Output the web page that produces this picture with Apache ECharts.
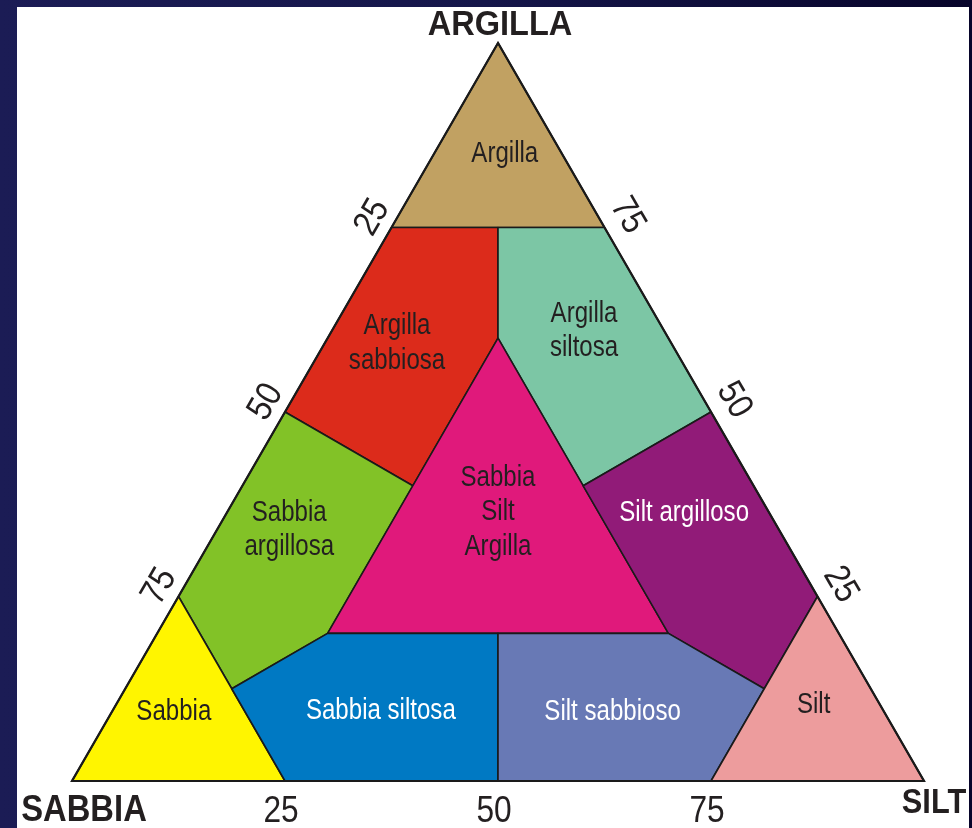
<!DOCTYPE html>
<html>
<head>
<meta charset="utf-8">
<script src="https://cdn.jsdelivr.net/npm/echarts@6/dist/echarts.min.js"></script>
<style>
html,body{margin:0;padding:0;background:#12133f;}
#chart{width:972px;height:828px;}
</style>
</head>
<body>
<div id="chart"></div>
<script>
// Texture classes; vertices given as [clay %, silt %] (sand = 100 - clay - silt)
const regionNames = ['Argilla', 'Argilla\nsabbiosa', 'Argilla\nsiltosa', 'Sabbia\nargillosa',
  'Sabbia\nSilt\nArgilla', 'Silt argilloso', 'Sabbia', 'Sabbia siltosa', 'Silt sabbioso', 'Silt'];
const argillaVerts = [[100, 0], [75, 0], [75, 25]];
const argillaSabbiosaVerts = [[75, 0], [75, 12.5], [60, 20], [40, 20], [50, 0]];
const argillaSiltosaVerts = [[75, 12.5], [75, 25], [50, 50], [40, 40], [60, 20]];
const sabbiaArgillosaVerts = [[50, 0], [40, 20], [20, 20], [12.5, 12.5], [25, 0]];
const sabbiaSiltArgillaVerts = [[60, 20], [20, 20], [20, 60]];
const siltArgillosoVerts = [[50, 50], [25, 75], [12.5, 75], [20, 60], [40, 40]];
const sabbiaVerts = [[0, 0], [25, 0], [0, 25]];
const sabbiaSiltosaVerts = [[12.5, 12.5], [20, 20], [20, 40], [0, 50], [0, 25]];
const siltSabbiosoVerts = [[20, 40], [20, 60], [12.5, 75], [0, 75], [0, 50]];
const siltVerts = [[25, 75], [0, 100], [0, 75]];
const regionVertices = [argillaVerts, argillaSabbiosaVerts, argillaSiltosaVerts, sabbiaArgillosaVerts,
  sabbiaSiltArgillaVerts, siltArgillosoVerts, sabbiaVerts, sabbiaSiltosaVerts, siltSabbiosoVerts, siltVerts];
// label anchors [clay %, silt %]
const labelAnchors = [[85, 8.3], [59.3, 8.5], [61, 29.6], [34, 8.5], [36.4, 31.8], [36.3, 53.7],
  [9.3, 7.3], [9.5, 31.5], [9.3, 58.8], [10.3, 81.9]];
// edge tick labels
const tickValues = [25, 50, 75];
const tickLabels = ['25', '50', '75'];
const cornerTitles = ['ARGILLA', 'SABBIA', 'SILT'];

// styles
const regionColors = ['#c1a162', '#dc2b1b', '#7cc6a5', '#82c227', '#e0197b', '#911b78',
  '#fff500', '#0079c3', '#6879b5', '#ed9c9d'];
const labelColors = ['#231f20', '#231f20', '#231f20', '#231f20', '#231f20', '#ffffff',
  '#231f20', '#ffffff', '#ffffff', '#231f20'];
const FONT = '"Liberation Sans", Arial, sans-serif';

function toXY(v) { // [clay, silt] -> [x%, y%]
  return [v[1] + v[0] / 2, v[0]];
}

// tick anchor points on each edge ([clay, silt]) and pixel offsets
const tickData = [];
tickValues.forEach((t, k) => {
  // bottom edge: silt %
  tickData.push({pt: [0, t], text: tickLabels[k], rot: 0, off: [-4, 31]});
  // left edge: sand %  (clay = 100 - sand)
  tickData.push({pt: [100 - t, 0], text: tickLabels[k], rot: Math.PI / 3, off: [-19, -10]});
  // right edge: clay %
  tickData.push({pt: [t, 100 - t], text: tickLabels[k], rot: -Math.PI / 3, off: [23, -12]});
});

const chart = echarts.init(document.getElementById('chart'));
chart.setOption({
  animation: false,
  backgroundColor: {type: 'linear', x: 0, y: 0, x2: 1, y2: 0,
    colorStops: [{offset: 0, color: '#1b1c55'}, {offset: 0.5, color: '#15164a'}, {offset: 1, color: '#07042a'}]},
  grid: {left: 72, top: 43, width: 852, height: 738},
  xAxis: {type: 'value', min: 0, max: 100, show: false},
  yAxis: {type: 'value', min: 0, max: 100, show: false},
  graphic: [
    {type: 'rect', z: -10, shape: {x: 17, y: 7, width: 952, height: 821}, style: {fill: '#ffffff'}},
    {type: 'text', x: 500, y: 25, scaleX: 0.93, style: {text: cornerTitles[0], fill: '#231f20',
      font: 'bold 35px ' + FONT, align: 'center', verticalAlign: 'middle'}},
    {type: 'text', x: 84, y: 811, scaleX: 0.91, style: {text: cornerTitles[1], fill: '#231f20',
      font: 'bold 36px ' + FONT, align: 'center', verticalAlign: 'middle'}},
    {type: 'text', x: 934, y: 803, scaleX: 0.88, style: {text: cornerTitles[2], fill: '#231f20',
      font: 'bold 35px ' + FONT, align: 'center', verticalAlign: 'middle'}}
  ],
  series: [
    {
      type: 'custom',
      coordinateSystem: 'cartesian2d',
      data: regionNames.map((n, i) => [i]),
      renderItem: function (params, api) {
        const i = api.value(0);
        const pts = regionVertices[i].map(v => api.coord(toXY(v)));
        return {type: 'polygon', shape: {points: pts},
          style: {fill: regionColors[i], stroke: '#1a1a1a', lineWidth: 1.6, lineJoin: 'round'}};
      },
      z: 2
    },
    {
      type: 'custom',
      coordinateSystem: 'cartesian2d',
      data: [[0]],
      renderItem: function (params, api) {
        const pts = [[100, 0], [0, 0], [0, 100]].map(v => api.coord(toXY(v)));
        return {type: 'polygon', shape: {points: pts},
          style: {fill: 'none', stroke: '#1a1a1a', lineWidth: 2.2, lineJoin: 'miter'}};
      },
      z: 3
    },
    {
      type: 'custom',
      coordinateSystem: 'cartesian2d',
      data: regionNames.map((n, i) => [i]),
      renderItem: function (params, api) {
        const i = api.value(0);
        const p = api.coord(toXY(labelAnchors[i]));
        return {type: 'text', x: p[0], y: p[1], scaleX: 0.83,
          style: {text: regionNames[i], fill: labelColors[i], font: '29px ' + FONT,
            align: 'center', verticalAlign: 'middle', lineHeight: 34.5}};
      },
      z: 4
    },
    {
      type: 'custom',
      coordinateSystem: 'cartesian2d',
      data: tickData.map((d, i) => [i]),
      renderItem: function (params, api) {
        const d = tickData[api.value(0)];
        const p = api.coord(toXY(d.pt));
        return {type: 'text', x: p[0] + d.off[0], y: p[1] + d.off[1], rotation: d.rot, scaleX: 0.88,
          style: {text: d.text, fill: '#231f20', font: '36px ' + FONT,
            align: 'center', verticalAlign: 'middle'}};
      },
      z: 4
    }
  ]
});
</script>
</body>
</html>
